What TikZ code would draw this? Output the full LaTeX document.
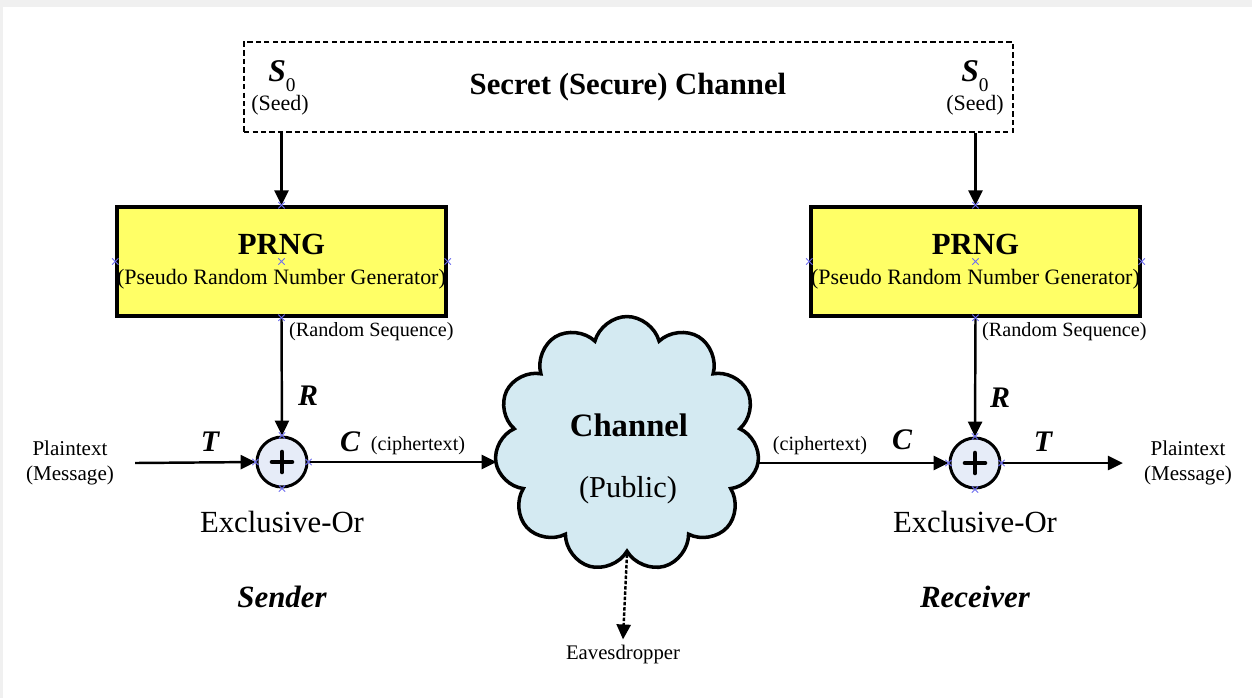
\documentclass[tikz,border=0pt]{standalone}
\usepackage{fontspec}
\setmainfont{Liberation Serif}
\usetikzlibrary{
	arrows.meta,
	positioning,
	shapes.symbols
}
\definecolor{PrngYellow}{RGB}{255,255,102}
\definecolor{CloudBlue}{RGB}{212,234,242}
\definecolor{XorBlue}{RGB}{230,236,248}
\definecolor{PinBlue}{RGB}{110,110,240}

\tikzset{
	arr/.style={line width=1.4pt, -{Triangle[length=8.5pt,width=8pt]}},
	prng/.style={draw, line width=2pt, fill=PrngYellow, minimum width=6.58cm, minimum height=2.18cm, align=center, inner sep=0pt},
	xor/.style={draw, circle, line width=1.7pt, fill=XorBlue, minimum size=1cm, inner sep=0pt},
	small/.style={font=\fontsize{11.5}{14}\selectfont},
	big/.style={font=\fontsize{17.5}{20}\selectfont},
	var/.style={font=\fontsize{17}{20}\selectfont\bfseries\itshape},
	pin/.style={PinBlue, line width=0.5pt}
}

\begin{document}
\begin{tikzpicture}[x=0.02cm, y=-0.02cm]
	% page with its grey frame
	\fill[white] (0,0) rectangle (1252,698);
	\fill[gray!12] (0,0) rectangle (1252,7);
	\fill[gray!12] (0,0) rectangle (3,698);

	% secret channel
	\node[draw, line width=1.6pt, dash pattern=on 3pt off 1.8pt, minimum width=15.38cm, minimum height=1.8cm] (secret) at (628.5,87) {};
	\node[big] (title) at (628,87) {\bfseries Secret (Secure) Channel};
	\node[var, font=\fontsize{18}{20}\selectfont\bfseries\itshape] (s0L) at (282,76) {S\raisebox{-0.3em}{\fontsize{11}{12}\selectfont\mdseries\upshape 0}};
	\node[small, font=\fontsize{12.5}{14}\selectfont] (seedL) at (280,105) {(Seed)};
	\node[var, font=\fontsize{18}{20}\selectfont\bfseries\itshape] (s0R) at (975,76) {S\raisebox{-0.3em}{\fontsize{11}{12}\selectfont\mdseries\upshape 0}};
	\node[small, font=\fontsize{12.5}{14}\selectfont] (seedR) at (975,105) {(Seed)};

	% generators
	\node[prng] (prngL) at (281.5,261.5) {\fontsize{17.5}{20}\selectfont\bfseries PRNG\\[5pt]\fontsize{12.5}{15}\selectfont (Pseudo Random Number Generator)};
	\node[prng] (prngR) at (975.5,261.5) {\fontsize{17.5}{20}\selectfont\bfseries PRNG\\[5pt]\fontsize{12.5}{15}\selectfont (Pseudo Random Number Generator)};

	% exclusive-or gates
	\node[xor] (xorL) at (282,462) {};
	\node[xor] (xorR) at (975,463) {};
	\foreach \g in {xorL,xorR}
		\draw[line width=2.6pt, line cap=round] (\g) +(-0.2cm,0) -- +(0.2cm,0) (\g) +(0,-0.2cm) -- +(0,0.2cm);

	% public channel
	\node[cloud, cloud puffs=11, cloud puff arc=150, aspect=1, draw, line width=2pt, fill=CloudBlue, minimum width=5.3cm, minimum height=5.1cm, inner sep=0pt] (chan) at (627,444) {};
	\node[font=\fontsize{18.6}{22}\selectfont\bfseries] (chanT) at (629,425) {Channel};
	\node[font=\fontsize{17.3}{20}\selectfont] (pubT) at (628,490) {(Public)};
	\node[small, font=\fontsize{11.8}{14}\selectfont] (eaves) at (623,655) {Eavesdropper};

	% end points
	\node[small, font=\fontsize{12}{14}\selectfont, align=center] (plainL) at (70,463) {Plaintext\\(Message)};
	\node[small, font=\fontsize{12}{14}\selectfont, align=center] (plainR) at (1188,463) {Plaintext\\(Message)};
	\node[big] (exL) at (282,522) {Exclusive-Or};
	\node[big] (exR) at (975,522) {Exclusive-Or};
	\node[var, font=\fontsize{17.6}{20}\selectfont\bfseries\itshape] (sender) at (282,597) {Sender};
	\node[var, font=\fontsize{17.6}{20}\selectfont\bfseries\itshape] (receiver) at (975,597) {Receiver};

	% connectors
	\draw[arr] (prngL.north |- secret.south) -- (prngL.north);
	\draw[arr] (prngR.north |- secret.south) -- (prngR.north);
	\draw[arr] (prngL.south) -- (xorL.north);
	\draw[arr] (prngR.south) -- (xorR.north);
	\draw[arr] ([xshift=0.3cm]plainL.east) -- (xorL.west);
	\draw[arr] (xorL.east) -- (xorL.east -| chan.west);
	\draw[arr] (xorR.west -| chan.east) -- (xorR.west);
	\draw[arr] (xorR.east) -- ([xshift=-0.3cm]plainR.west);
	\draw[arr, dash pattern=on 2pt off 1pt] (chan.south) -- (eaves.north);

	% labels on the lines
	\node[small, anchor=west] (rsL) at (283,332) {(Random Sequence)};
	\node[small, anchor=west] (rsR) at (976,332) {(Random Sequence)};
	\node[var] (rL) at (308,396) {R};
	\node[var] (rR) at (1000,398) {R};
	\node[var] (tL) at (210,442) {T};
	\node[var] (cL) at (350,442) {C};
	\node[small] (ctL) at (418,446) {(ciphertext)};
	\node[small] (ctR) at (820,446) {(ciphertext)};
	\node[var] (cR) at (902,440) {C};
	\node[var] (tR) at (1043,442) {T};

	% connection points
	\foreach \p in {prngL.north,prngL.south,prngL.east,prngL.west,prngL.center,prngR.north,prngR.south,prngR.east,prngR.west,prngR.center,xorL.north,xorL.south,xorL.east,xorL.west,xorR.north,xorR.south,xorR.east,xorR.west}
		\draw[pin] (\p) +(-1.8pt,-1.8pt) -- +(1.8pt,1.8pt) +(-1.8pt,1.8pt) -- +(1.8pt,-1.8pt);
\end{tikzpicture}
\end{document}
